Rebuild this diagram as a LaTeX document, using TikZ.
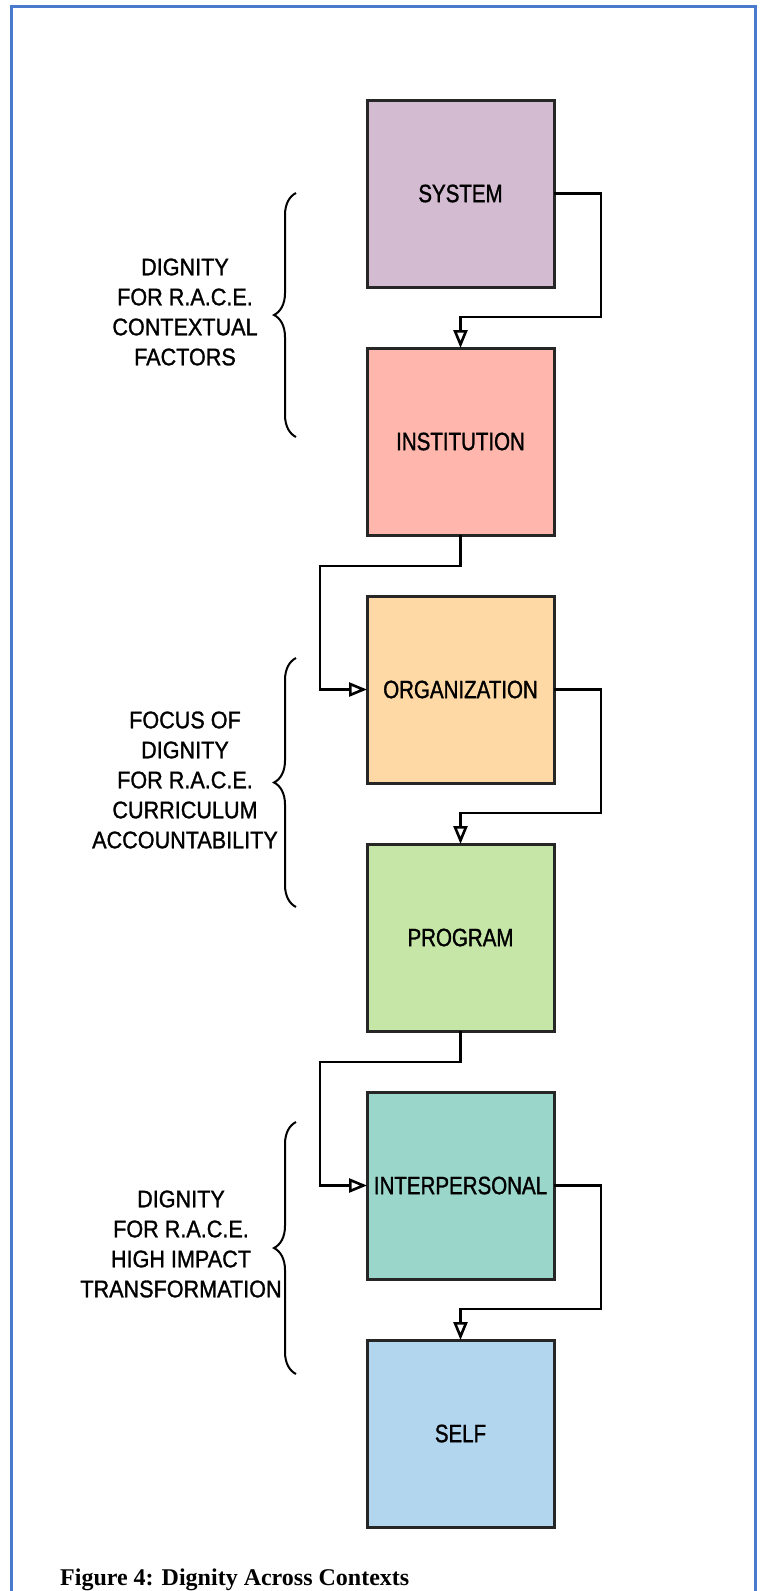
\documentclass[tikz,border=0pt]{standalone}
\usepackage{fontspec}
\setmainfont{Liberation Serif}
\setsansfont{Liberation Sans}
\newfontfamily\boxfont{Liberation Sans}[FakeStretch=0.82,FakeBold=1.3]
\newfontfamily\sidefont{Liberation Sans}[FakeStretch=0.9,FakeBold=1.2]
\usetikzlibrary{positioning,arrows.meta,decorations.pathreplacing}

\definecolor{frameblue}{RGB}{74,122,205}
\definecolor{sysfill}{RGB}{211,187,210}
\definecolor{instfill}{RGB}{255,183,173}
\definecolor{orgfill}{RGB}{255,217,165}
\definecolor{progfill}{RGB}{197,230,167}
\definecolor{interfill}{RGB}{154,214,202}
\definecolor{selffill}{RGB}{179,214,239}

\begin{document}
\begin{tikzpicture}[x=1pt,y=1pt,node distance=61pt]
        \tikzstyle{box}=[draw=black!85,line width=3pt,minimum size=187pt,inner sep=0pt,outer sep=0pt,font=\boxfont\fontsize{25}{28}\selectfont]
        \tikzstyle{link}=[line width=2.6pt,-{Triangle[open,length=18pt,width=14pt]}]
        \tikzstyle{brace}=[line width=2pt,decorate,decoration={brace,amplitude=22pt}]
        \tikzstyle{side}=[align=center,font=\sidefont\fontsize{24}{30}\selectfont]
        \useasboundingbox (0,0) rectangle (762,-1591);
        \draw[line width=2.4pt,frameblue] (11.5,-1595) -- (11.5,-6.5) -- (755.5,-6.5) -- (755.5,-1595);
        \node[box,fill=sysfill] (sys) at (460.5,-193.5) {SYSTEM};
        \node[box,fill=instfill,below=of sys] (inst) {INSTITUTION};
        \node[box,fill=orgfill,below=of inst] (org) {ORGANIZATION};
        \node[box,fill=progfill,below=of org] (prog) {PROGRAM};
        \node[box,fill=interfill,below=of prog] (inter) {INTERPERSONAL};
        \node[box,fill=selffill,below=of inter] (self) {SELF};
        \draw[link] (sys.east) -- ++(47,0) |- ([yshift=31pt]inst.north) -- (inst.north);
        \draw[link] (inst.south) -- ++(0,-31) -- ++(-140.5,0) |- (org.west);
        \draw[link] (org.east) -- ++(47,0) |- ([yshift=31pt]prog.north) -- (prog.north);
        \draw[link] (prog.south) -- ++(0,-31) -- ++(-140.5,0) |- (inter.west);
        \draw[link] (inter.east) -- ++(47,0) |- ([yshift=31pt]self.north) -- (self.north);
        \draw[brace] (296,-437) -- (296,-193);
        \draw[brace] (296,-907) -- (296,-658);
        \draw[brace] (296,-1374) -- (296,-1122);
        \node[side] (ctxlbl) at (185,-312) {DIGNITY\\FOR R.A.C.E.\\CONTEXTUAL\\FACTORS};
        \node[side] (foclbl) at (185,-780) {FOCUS OF\\DIGNITY\\FOR R.A.C.E.\\CURRICULUM\\ACCOUNTABILITY};
        \node[side] (implbl) at (181,-1244) {DIGNITY\\FOR R.A.C.E.\\HIGH IMPACT\\TRANSFORMATION};
        \node[anchor=base west,inner sep=0pt,font=\bfseries\fontsize{24}{28}\selectfont] (cap) at (60,-1585) {Figure 4: Dignity Across Contexts};
    \end{tikzpicture}
\end{document}
